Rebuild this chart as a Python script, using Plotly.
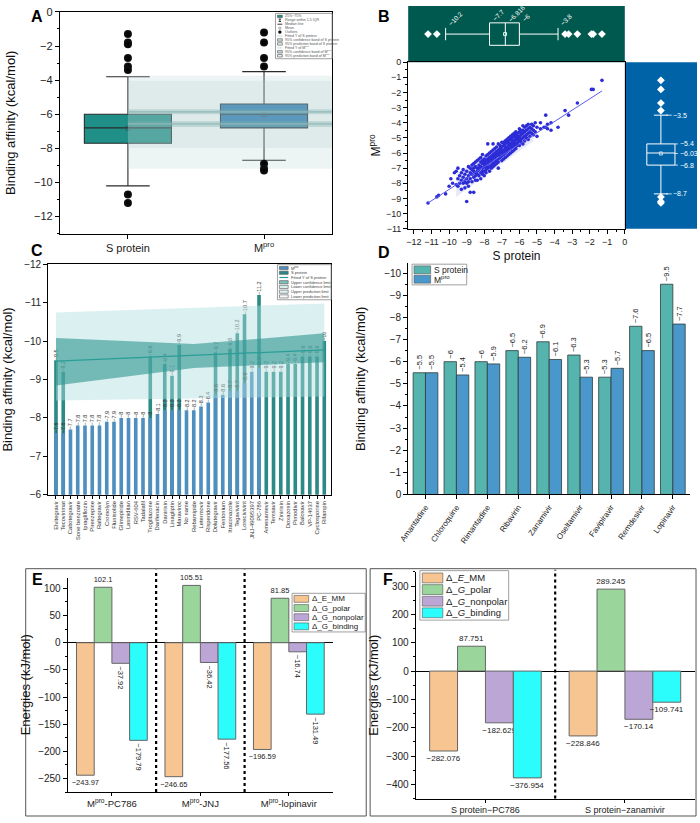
import plotly.graph_objects as go

W, H = 700, 823
def PX(x): return x / W
def PY(y): return 1 - y / H
FONT = "Arial, Liberation Sans, sans-serif"

def fmt(v):
    return f"{v:g}".replace("-", "\u2212")

# ---------------- DATA ----------------
# Panel A (box statistics)
a_groups = ["S protein", "M<sup>pro</sup>"]
a_q1 = [-7.7, -6.8]
a_median = [-6.8, -6.0]
a_q3 = [-6.0, -5.4]
a_lower = [-10.2, -8.7]
a_upper = [-3.8, -3.5]
a_mean = [-6.816, -6.03]
a_out_s = [-1.3, -1.8, -1.9, -2.7, -3.2, -3.4, -10.7, -11.2]
a_out_m = [-1.2, -1.8, -2.7, -3.2, -8.9, -9.2, -9.3]
a_band_x = [0, 1.5]
a_pred_band = [-9.2, -3.75]
a_conf_band = [-7.98, -4.04]
a_fit_s_band = [-6.75, -6.4]
a_fit_s = -6.57
a_fit_m_band = [-6.0, -5.71]
a_fit_m = -5.86

# Panel B
b_pairs = [
    (-11.2, -9.3), (-10.7, -8.9), (-10.6, -8.8), (-10.2, -8.7), (-10.0, -8.2), (-9.9, -7.7), (-9.8, -8.0), (-9.7, -7.3),
    (-9.6, -8.1), (-9.6, -7.2), (-9.5, -8.2), (-9.5, -7.7), (-9.5, -7.0), (-9.4, -8.0), (-9.4, -7.5),
    (-9.3, -7.3), (-9.3, -8.4), (-9.3, -7.8), (-9.2, -7.6), (-9.2, -8.0), (-9.2, -7.1),
    (-9.1, -7.9), (-9.1, -7.4), (-9.1, -8.3), (-9.0, -7.7), (-9.0, -7.2), (-9.0, -8.0), (-9.0, -9.2),
    (-8.9, -7.5), (-8.9, -7.9), (-8.9, -6.9), (-8.9, -8.2),
    (-8.8, -7.3), (-8.8, -7.7), (-8.8, -8.6), (-8.8, -7.0),
    (-8.7, -7.4), (-8.7, -6.8), (-8.7, -7.9), (-8.7, -7.1),
    (-8.6, -7.2), (-8.6, -7.6), (-8.6, -6.7), (-8.6, -8.6), (-8.6, -7.0),
    (-8.5, -7.3), (-8.5, -6.9), (-8.5, -7.8), (-8.5, -6.6), (-8.5, -7.5),
    (-8.4, -7.0), (-8.4, -7.4), (-8.4, -6.5), (-8.4, -7.8), (-8.4, -7.2),
    (-8.3, -6.8), (-8.3, -7.1), (-8.3, -7.5), (-8.3, -6.4), (-8.3, -7.0),
    (-8.2, -6.9), (-8.2, -7.3), (-8.2, -6.6), (-8.2, -7.7), (-8.2, -6.3),
    (-8.1, -6.7), (-8.1, -7.0), (-8.1, -7.4), (-8.1, -6.5), (-8.1, -6.1), (-8.1, -7.2),
    (-8.0, -6.9), (-8.0, -6.6), (-8.0, -7.2), (-8.0, -6.4), (-8.0, -7.5), (-8.0, -6.7),
    (-7.9, -6.5), (-7.9, -6.8), (-7.9, -7.1), (-7.9, -6.2), (-7.9, -7.3), (-7.9, -6.9),
    (-7.8, -6.7), (-7.8, -6.4), (-7.8, -7.0), (-7.8, -6.1), (-7.8, -5.4), (-7.8, -6.6),
    (-7.7, -6.3), (-7.7, -6.6), (-7.7, -6.9), (-7.7, -6.0), (-7.7, -7.2), (-7.7, -6.5),
    (-7.6, -6.5), (-7.6, -6.2), (-7.6, -6.8), (-7.6, -5.9), (-7.6, -7.0), (-7.6, -6.4),
    (-7.5, -6.1), (-7.5, -6.4), (-7.5, -6.7), (-7.5, -5.8), (-7.5, -6.9), (-7.5, -6.3), (-7.5, -5.4),
    (-7.4, -6.3), (-7.4, -6.0), (-7.4, -6.6), (-7.4, -5.7), (-7.4, -6.8), (-7.4, -6.2),
    (-7.3, -5.9), (-7.3, -6.2), (-7.3, -6.5), (-7.3, -5.6), (-7.3, -6.1), (-7.3, -6.7),
    (-7.2, -6.1), (-7.2, -5.8), (-7.2, -6.4), (-7.2, -5.4), (-7.2, -6.0), (-7.2, -6.6), (-7.2, -7.0),
    (-7.1, -5.7), (-7.1, -6.0), (-7.1, -6.3), (-7.1, -5.5), (-7.1, -6.2), (-7.1, -5.9),
    (-7.0, -5.9), (-7.0, -5.6), (-7.0, -6.2), (-7.0, -5.3), (-7.0, -6.0), (-7.0, -6.5), (-7.0, -5.8),
    (-6.9, -5.5), (-6.9, -5.8), (-6.9, -6.1), (-6.9, -5.3), (-6.9, -5.9), (-6.9, -6.4),
    (-6.8, -5.7), (-6.8, -5.4), (-6.8, -6.0), (-6.8, -5.2), (-6.8, -5.6), (-6.8, -6.3), (-6.8, -5.8),
    (-6.7, -5.3), (-6.7, -5.6), (-6.7, -5.9), (-6.7, -5.1), (-6.7, -5.7), (-6.7, -6.2),
    (-6.6, -5.5), (-6.6, -5.2), (-6.6, -5.8), (-6.6, -5.0), (-6.6, -5.4), (-6.6, -6.1), (-6.6, -5.6),
    (-6.5, -5.1), (-6.5, -5.4), (-6.5, -5.7), (-6.5, -4.9), (-6.5, -5.5), (-6.5, -6.0),
    (-6.4, -5.3), (-6.4, -5.0), (-6.4, -5.6), (-6.4, -4.8), (-6.4, -5.2), (-6.4, -5.9), (-6.4, -5.4),
    (-6.3, -4.9), (-6.3, -5.2), (-6.3, -5.5), (-6.3, -4.7), (-6.3, -5.3), (-6.3, -5.8),
    (-6.2, -5.1), (-6.2, -4.8), (-6.2, -5.4), (-6.2, -4.6), (-6.2, -5.0), (-6.2, -5.7),
    (-6.1, -4.7), (-6.1, -5.0), (-6.1, -5.3), (-6.1, -4.9), (-6.1, -5.5), (-6.1, -5.1),
    (-6.0, -4.9), (-6.0, -4.6), (-6.0, -5.2), (-6.0, -4.4), (-6.0, -5.0), (-6.0, -5.5),
    (-5.9, -4.5), (-5.9, -4.8), (-5.9, -5.1), (-5.9, -4.7), (-5.9, -5.3),
    (-5.8, -4.7), (-5.8, -4.2), (-5.8, -5.0), (-5.8, -4.5), (-5.8, -5.4),
    (-5.7, -4.3), (-5.7, -4.6), (-5.7, -4.9), (-5.7, -5.2),
    (-5.6, -4.5), (-5.6, -4.8), (-5.6, -4.2), (-5.6, -5.0),
    (-5.5, -4.1), (-5.5, -4.4), (-5.5, -4.7), (-5.5, -5.1),
    (-5.4, -4.3), (-5.4, -4.6), (-5.4, -4.9),
    (-5.3, -4.1), (-5.3, -4.4), (-5.3, -4.7),
    (-5.2, -4.5), (-5.2, -4.2), (-5.2, -4.8),
    (-5.1, -4.0), (-5.1, -4.6), (-5.0, -4.3), (-5.0, -4.9),
    (-4.8, -4.0), (-4.8, -4.4), (-4.6, -4.3), (-4.5, -3.5), (-4.5, -4.3),
    (-4.4, -4.1), (-4.4, -4.4), (-4.2, -4.0), (-4.2, -4.5), (-3.8, -4.3),
    (-3.4, -3.2), (-3.2, -3.5), (-2.7, -2.7), (-1.9, -1.8), (-1.8, -1.8), (-1.3, -1.2),
]
b_fit_x = [-11.2, -1.3]
b_fit_y = [-9.3, -1.9]
b_band_x = [-9.6, -5.2]
b_band_lo = [-8.9, -5.2]
b_band_hi = [-7.4, -3.9]
b_top_stats = [-10.2, -7.7, -6.8, -6.0, -3.8]
b_top_labels = ["-10.2", "-7.7", "-6.816", "-6", "-3.8"]
b_top_out = [-11.2, -10.7, -3.4, -3.2, -2.7, -1.9, -1.8, -1.3]
b_right_stats = [-3.5, -5.4, -6.03, -6.8, -8.7]
b_right_labels = ["-3.5", "-5.4", "-6.03", "-6.8", "-8.7"]
b_right_out = [-1.2, -1.8, -2.7, -3.2, -8.9, -9.2, -9.3]

# Panel C
c_drugs = ["Elvitegravir", "Tecovirimat", "Cabotegravir", "Sone benzoate", "Ipragliflozin", "Pirenzepine",
           "Raltegravir", "Cromolyn", "Flunisolide", "Glimepiride", "Lasmiditan", "RSV-604", "Tadalafil",
           "Troglitazone", "Darifenacin", "Danirixin", "Linagliptin", "Maraviroc", "No name", "Rebamipide",
           "Letermovir", "Risperidone", "Dolutegravir", "Fentonium", "Itraconazole", "Tegavivint",
           "Lorecivivint", "JNJ-49095397", "PC-786", "Amenamevir", "Temsavir", "Zinirixin", "Doxazosin",
           "Pimodivir", "Baloxavir", "VP-14637", "Cyclosporine", "Rifampin"]
c_mpro = [-7.6, -7.6, -7.7, -7.8, -7.8, -7.8, -7.8, -7.9, -7.9, -8, -8, -8, -8, -8, -8.1, -8.2, -8.2, -8.2,
          -8.2, -8.2, -8.3, -8.4, -8.6, -8.6, -8.7, -8.7, -8.9, -9.2, -9.3,
          None, None, None, None, None, None, None, None, None]
c_s = [-9.5, -9.2, None, None, None, None, None, None, None, None, None, None, None, -9.6, None, -9.4, -9.1,
       -9.9, None, None, None, None, -9.7, None, -9.8, -10.2, -10.7, None, -11.2, -9.2, -9.2, -9.2, -9.4,
       -9.4, -9.6, -9.6, -9.6, -10]
c_band_x = [0, 19, 37]
c_fit = [-9.48, -9.62, -9.77]
c_conf_hi = [-10.08, -9.92, -10.2]
c_conf_lo = [-8.84, -9.3, -9.45]
c_pred_hi = [-10.74, -10.86, -10.98]
c_pred_lo = [-8.45, -8.5, -8.56]

# Panel D
d_drugs = ["Amantadine", "Chloroquine", "Rimantadine", "Ribavirin", "Zanamivir", "Oseltamivir",
           "Favipiravir", "Remdesivir", "Lopinavir"]
d_s = [-5.5, -6, -6, -6.5, -6.9, -6.3, -5.3, -7.6, -9.5]
d_m = [-5.5, -5.4, -5.9, -6.2, -6.1, -5.3, -5.7, -6.5, -7.7]
d_names = ["S protein", "M<sup>pro</sup>"]

# Panel E
e_groups = ["M<sup>pro</sup>-PC786", "M<sup>pro</sup>-JNJ", "M<sup>pro</sup>-lopinavir"]
e_emm = [-243.97, -246.65, -196.59]
e_polar = [102.1, 105.51, 81.85]
e_nonpolar = [-37.92, -36.42, -16.74]
e_binding = [-179.79, -177.56, -131.49]
e_names = ["\u0394_E_MM", "\u0394_G_polar", "\u0394_G_nonpolar", "\u0394_G_binding"]

# Panel F
f_groups = ["S protein\u2212PC786", "S protein\u2212zanamivir"]
f_emm = [-282.076, -228.846]
f_polar = [87.751, 289.245]
f_nonpolar = [-182.629, -170.14]
f_binding = [-376.954, -109.741]
f_names = ["\u0394_<i>E</i>_MM", "\u0394_<i>G</i>_polar", "\u0394_<i>G</i>_nonpolar", "\u0394_<i>G</i>_binding"]

# ---------------- STYLE ----------------
A_S, A_M = "#1f8f88", "#2878b0"
B_TOP_BG, B_RIGHT_BG = "#00594f", "#0063a8"
C_M, C_S = "#4f8fc0", "#2b8a85"
D_S, D_M = "#55b4ad", "#4a98cb"
E_COLS = ["#f7c592", "#9ad59b", "#bba6d6", "#2bfcfc"]

fig = go.Figure()
shapes, annots = [], []

def rect_px(x0, y0, x1, y1, fill, line="#444", lw=0.8):
    shapes.append(dict(type="rect", xref="paper", yref="paper", x0=PX(x0), x1=PX(x1), y0=PY(y1), y1=PY(y0),
                       fillcolor=fill, line=dict(color=line, width=lw), layer="above"))

def line_px(x0, y0, x1, y1, color, lw=1.0, dash="solid"):
    shapes.append(dict(type="line", xref="paper", yref="paper", x0=PX(x0), x1=PX(x1), y0=PY(y0), y1=PY(y1),
                       line=dict(color=color, width=lw, dash=dash), layer="above"))

def text_px(x, y, s, size, color="#222", xanchor="left", yanchor="middle"):
    annots.append(dict(xref="paper", yref="paper", x=PX(x), y=PY(y), text=s, showarrow=False,
                       xanchor=xanchor, yanchor=yanchor, borderpad=0,
                       font=dict(size=size, color=color, family=FONT)))

def manual_legend(items, x0, y0, x1, row_h, sw_w, sw_h, fsize, pad=1.5, tcolor="#222"):
    n = len(items)
    rect_px(x0, y0, x1, y0 + 2 * pad + n * row_h, "white", line="#888", lw=0.8)
    for i, (kind, color, label) in enumerate(items):
        cy = y0 + pad + row_h * (i + 0.5)
        sx = x0 + pad + 1
        if kind == "rect":
            rect_px(sx, cy - sw_h / 2, sx + sw_w, cy + sw_h / 2, color, line="#555", lw=0.6)
        elif kind == "line":
            line_px(sx, cy, sx + sw_w, cy, color, lw=1.2)
        elif kind == "whisker":
            line_px(sx + sw_w / 2, cy - sw_h / 2, sx + sw_w / 2, cy + sw_h / 2, color, lw=0.8)
            line_px(sx + sw_w / 4, cy - sw_h / 2, sx + 3 * sw_w / 4, cy - sw_h / 2, color, lw=0.8)
            line_px(sx + sw_w / 4, cy + sw_h / 2, sx + 3 * sw_w / 4, cy + sw_h / 2, color, lw=0.8)
        elif kind == "dot":
            shapes.append(dict(type="circle", xref="paper", yref="paper", x0=PX(sx + sw_w / 2 - 1.5),
                               x1=PX(sx + sw_w / 2 + 1.5), y0=PY(cy + 1.5), y1=PY(cy - 1.5),
                               fillcolor=color, line=dict(color=color, width=0.5)))
        elif kind == "sq":
            rect_px(sx + sw_w / 2 - 1, cy - 1, sx + sw_w / 2 + 1, cy + 1, "white", line=color, lw=0.5)
        text_px(sx + sw_w + 2, cy, label, fsize, color=tcolor)

# ---------------- PANEL A ----------------
for i, col in enumerate([A_S, A_M]):
    fig.add_trace(go.Box(x=[i], q1=[a_q1[i]], median=[a_median[i]], q3=[a_q3[i]],
                         lowerfence=[a_lower[i]], upperfence=[a_upper[i]], width=0.64, whiskerwidth=0.5,
                         fillcolor=col, line=dict(color="#2a2a2a", width=1.1), boxpoints=False,
                         xaxis="x", yaxis="y"))
fig.add_trace(go.Scatter(x=[0, 1], y=a_mean, mode="markers", xaxis="x", yaxis="y",
                         marker=dict(symbol="square-open", size=4, color="#444", line=dict(width=0.6))))
for lo_hi, fcol in [(a_pred_band, "rgba(175,205,205,0.22)"), (a_conf_band, "rgba(175,205,205,0.22)"),
                    (a_fit_s_band, "rgba(130,175,175,0.35)"), (a_fit_m_band, "rgba(130,175,175,0.35)")]:
    fig.add_trace(go.Scatter(x=[a_band_x[0], a_band_x[1], a_band_x[1], a_band_x[0]],
                             y=[lo_hi[0], lo_hi[0], lo_hi[1], lo_hi[1]], fill="toself", fillcolor=fcol,
                             mode="lines", line=dict(width=0), xaxis="x", yaxis="y"))
for fy in [a_fit_s, a_fit_m]:
    fig.add_trace(go.Scatter(x=a_band_x, y=[fy, fy], mode="lines", line=dict(color="#8fb8b8", width=1.2),
                             xaxis="x", yaxis="y"))
fig.add_trace(go.Scatter(x=[0] * len(a_out_s) + [1] * len(a_out_m), y=a_out_s + a_out_m, mode="markers",
                         xaxis="x", yaxis="y",
                         marker=dict(size=8, color="#111", gradient=dict(type="radial", color="#000"),
                                     line=dict(width=0))))

manual_legend([("rect", A_S, "25%~75%"), ("whisker", "#111", "Range within 1.5 IQR"),
               ("line", "#555", "Median line"), ("sq", "#666", "Mean"), ("dot", "#111", "Outliers"),
               ("line", "#cfe2e2", "Fitted Y of S protein"), ("rect", "#c9dede", "95% confidence band of S protein"),
               ("rect", "#e6f0f0", "95% prediction band of S protein"), ("line", "#cfe2e2", "Fitted Y of M<sup>pro</sup>"),
               ("rect", "#c9dede", "95% confidence band of M<sup>pro</sup>"),
               ("rect", "#e6f0f0", "95% prediction band of M<sup>pro</sup>")],
              268, 7.5, 326, 4.0, 5, 2.5, 3.6, pad=1, tcolor="#555")

# ---------------- PANEL B ----------------
b_sx = [p[0] for p in b_pairs]
b_my = [p[1] for p in b_pairs]
fig.add_trace(go.Scatter(x=[b_band_x[0], b_band_x[1], b_band_x[1], b_band_x[0]],
                         y=[b_band_lo[0], b_band_lo[1], b_band_hi[1], b_band_hi[0]], fill="toself",
                         fillcolor="rgba(130,130,235,0.18)", mode="lines", line=dict(width=0),
                         xaxis="x2", yaxis="y2"))
fig.add_trace(go.Scatter(x=b_sx, y=b_my, mode="markers", xaxis="x2", yaxis="y2",
                         marker=dict(size=3.6, color="rgb(45,45,215)", line=dict(width=0))))
fig.add_trace(go.Scatter(x=b_fit_x, y=b_fit_y, mode="lines", line=dict(color="#5b5bf0", width=1),
                         xaxis="x2", yaxis="y2"))
# top box (S protein)
fig.add_trace(go.Box(y=[0], q1=[b_top_stats[1]], median=[b_top_stats[2]], q3=[b_top_stats[3]],
                     lowerfence=[b_top_stats[0]], upperfence=[b_top_stats[4]], orientation="h",
                     width=0.8, whiskerwidth=0.55, fillcolor="rgba(0,0,0,0)",
                     line=dict(color="white", width=1), boxpoints=False, xaxis="x3", yaxis="y3"))
fig.add_trace(go.Scatter(x=b_top_out, y=[0] * len(b_top_out), mode="markers", xaxis="x3", yaxis="y3",
                         marker=dict(symbol="diamond", size=6, color="white")))
fig.add_trace(go.Scatter(x=[a_mean[0]], y=[0], mode="markers", xaxis="x3", yaxis="y3",
                         marker=dict(symbol="square-open", size=3, color="#cfe")))
for v, lab in zip(b_top_stats, b_top_labels):
    inbox = b_top_stats[1] <= v <= b_top_stats[3]
    annots.append(dict(xref="x3", yref="y3", x=v, y=0.36 if inbox else 0.2, text=lab.replace("-", "\u2212"),
                       showarrow=False, xanchor="left", yanchor="bottom", textangle=-45, borderpad=0,
                       font=dict(size=6.5, color="white", family=FONT)))
# right box (Mpro)
fig.add_trace(go.Box(x=[0], q1=[b_right_stats[3]], median=[a_median[1]], q3=[b_right_stats[1]],
                     lowerfence=[b_right_stats[4]], upperfence=[b_right_stats[0]],
                     width=0.78, whiskerwidth=0.5, fillcolor="rgba(0,0,0,0)",
                     line=dict(color="white", width=1), boxpoints=False, xaxis="x4", yaxis="y4"))
fig.add_trace(go.Scatter(x=[0] * len(b_right_out), y=b_right_out, mode="markers", xaxis="x4", yaxis="y4",
                         marker=dict(symbol="diamond", size=6, color="white")))
fig.add_trace(go.Scatter(x=[0], y=[b_right_stats[2]], mode="markers", xaxis="x4", yaxis="y4",
                         marker=dict(symbol="square-open", size=3, color="#cde")))
for v, lab in zip(b_right_stats, b_right_labels):
    inbox = b_right_stats[3] <= v <= b_right_stats[1]
    x0, x1 = (0.39, 0.47) if inbox else (0.14, 0.3)
    shapes.append(dict(type="line", xref="x4", yref="y4", x0=x0, x1=x1, y0=v, y1=v,
                       line=dict(color="white", width=0.8)))
    annots.append(dict(xref="x4", yref="y4", x=x1 + 0.02, y=v, text=lab.replace("-", "\u2212"),
                       showarrow=False, xanchor="left", yanchor="middle", borderpad=0,
                       font=dict(size=7, color="white", family=FONT)))
shapes.append(dict(type="rect", xref="x3 domain", yref="y3 domain", x0=0, x1=1, y0=0, y1=1,
                   fillcolor=B_TOP_BG, line=dict(width=0), layer="below"))
shapes.append(dict(type="rect", xref="x4 domain", yref="y4 domain", x0=0, x1=1, y0=0, y1=1,
                   fillcolor=B_RIGHT_BG, line=dict(width=0), layer="below"))

# ---------------- PANEL C ----------------
c_sx = [i for i, v in enumerate(c_s) if v is not None]
c_sv = [v for v in c_s if v is not None]
c_mx = [i for i, v in enumerate(c_mpro) if v is not None]
c_mv = [v for v in c_mpro if v is not None]
for xs, vs, col in [(c_sx, c_sv, C_S), (c_mx, c_mv, C_M)]:
    fig.add_trace(go.Bar(x=xs, y=vs, xaxis="x5", yaxis="y5", width=0.5, offset=-0.25, offsetgroup="c",
                         marker=dict(color=col, line=dict(width=0)),
                         text=[fmt(v) for v in vs], textposition="outside",
                         textangle=-90, constraintext="none",
                         textfont=dict(size=5.5, color="#333", family=FONT)))
fig.add_trace(go.Scatter(x=c_band_x + c_band_x[::-1], y=c_pred_hi + c_pred_lo[::-1], fill="toself",
                         fillcolor="rgba(175,222,222,0.45)", mode="lines", line=dict(width=0),
                         xaxis="x5", yaxis="y5"))
fig.add_trace(go.Scatter(x=c_band_x + c_band_x[::-1], y=c_conf_hi + c_conf_lo[::-1], fill="toself",
                         fillcolor="rgba(45,150,145,0.6)", mode="lines", line=dict(width=0),
                         xaxis="x5", yaxis="y5"))
fig.add_trace(go.Scatter(x=c_band_x, y=c_fit, mode="lines", line=dict(color="#2a9d96", width=1.2),
                         xaxis="x5", yaxis="y5"))
manual_legend([("rect", C_M, "M<sup>pro</sup>"), ("rect", C_S, "S protein"),
               ("line", "#2a9d96", "Fitted Y of S protein"), ("rect", "#7cc0bc", "Upper confidence limit"),
               ("rect", "#d9eeee", "Lower confidence limit"), ("rect", "#e3f3f3", "Upper prediction limit"),
               ("rect", "#f4fafa", "Lower prediction limit")],
              270, 262.5, 325, 4.8, 9, 3.2, 4, pad=1, tcolor="#444")

# ---------------- PANEL D ----------------
d_x = list(range(len(d_drugs)))
for vals, col in [(d_s, D_S), (d_m, D_M)]:
    fig.add_trace(go.Bar(x=d_x, y=vals, xaxis="x6", yaxis="y6",
                         marker=dict(color=col, line=dict(color="#2f3b3b", width=0.8)),
                         text=[fmt(v) for v in vals], textposition="outside", textangle=-90,
                         constraintext="none", cliponaxis=False,
                         textfont=dict(size=7.5, color="#222", family=FONT)))
manual_legend([("rect", D_S, d_names[0]), ("rect", D_M, d_names[1])],
              408, 262, 464, 9.5, 17, 8, 8.5, pad=1)

# ---------------- PANEL E ----------------
e_x = list(range(len(e_groups)))
for vals, col, ang in [(e_emm, E_COLS[0], 0), (e_polar, E_COLS[1], 0), (e_nonpolar, E_COLS[2], 90),
                       (e_binding, E_COLS[3], 90)]:
    fig.add_trace(go.Bar(x=e_x, y=vals, xaxis="x7", yaxis="y7",
                         marker=dict(color=col, line=dict(color="#666", width=1)),
                         text=[fmt(v) for v in vals], textposition="outside", textangle=ang,
                         constraintext="none", cliponaxis=False,
                         textfont=dict(size=7.5, color="#222", family=FONT)))
manual_legend([("rect", c, n) for c, n in zip(E_COLS, e_names)], 285, 596, 360, 9.3, 15, 7, 8, pad=1)

# ---------------- PANEL F ----------------
f_x = list(range(len(f_groups)))
for vals, col in [(f_emm, E_COLS[0]), (f_polar, E_COLS[1]), (f_nonpolar, E_COLS[2]), (f_binding, E_COLS[3])]:
    fig.add_trace(go.Bar(x=f_x, y=vals, xaxis="x8", yaxis="y8",
                         marker=dict(color=col, line=dict(color="#666", width=1)),
                         text=[fmt(v) for v in vals], textposition="outside", textangle=0,
                         constraintext="none", cliponaxis=False,
                         textfont=dict(size=8, color="#222", family=FONT)))
manual_legend([("rect", c, n) for c, n in zip(E_COLS, f_names)], 416, 573, 507, 11.8, 21, 10, 9.5, pad=1.5)

# dotted separators and frames
for xv in [0.5, 1.5]:
    shapes.append(dict(type="line", xref="x7", yref="paper", x0=xv, x1=xv, y0=PY(797.7), y1=PY(572),
                       line=dict(color="black", width=2.2, dash="dot")))
shapes.append(dict(type="line", xref="x8", yref="paper", x0=0.5, x1=0.5, y0=PY(804.3), y1=PY(572),
                   line=dict(color="black", width=2.2, dash="dot")))
for x0, x1 in [(12, 361), (365, 699)]:
    shapes.append(dict(type="rect", xref="paper", yref="paper", x0=PX(x0), x1=PX(x1), y0=PY(822), y1=PY(571),
                       line=dict(color="#555", width=1), fillcolor="rgba(0,0,0,0)"))

# panel letters
for lab, x, y in [("A", 16, 1), ("B", 372, 1), ("C", 16, 238), ("D", 372, 240), ("E", 17, 572), ("F", 377, 572)]:
    text_px(x, y, f"<b>{lab}</b>", 16, color="black", yanchor="top")

# ---------------- AXES ----------------
ax_common = dict(showline=True, linecolor="black", linewidth=1, ticks="outside", ticklen=4, tickwidth=1,
                 tickcolor="black", showgrid=False, zeroline=False,
                 tickfont=dict(size=10, color="#222", family=FONT))

def T(s, size=12):
    return dict(text=s, font=dict(size=size, color="#111", family=FONT))

layout_axes = dict(
    xaxis=dict(ax_common, domain=[PX(47), PX(326)], range=[-0.5, 1.5], tickvals=[0, 1], ticktext=a_groups,
               mirror=True, anchor="y", tickfont=dict(size=11, color="#222", family=FONT)),
    yaxis=dict(ax_common, domain=[PY(231), PY(6)], range=[-13, 0], dtick=2, mirror=True, anchor="x",
               minor=dict(dtick=1, ticks="outside", ticklen=2, tickcolor="black"),
               tickfont=dict(size=11, color="#222", family=FONT),
               title=T("Binding affinity (kcal/mol)", 13)),
    xaxis2=dict(ax_common, domain=[PX(404), PX(626)], range=[-12.33, 0], dtick=1, mirror=True, anchor="y2",
                tickangle=0, tickfont=dict(size=9, color="#222", family=FONT),
                minor=dict(dtick=0.5, ticks="outside", ticklen=2, tickcolor="black"),
                title=dict(T("S protein", 12), standoff=6)),
    yaxis2=dict(ax_common, domain=[PY(226), PY(57)], range=[-11, 0], dtick=1, mirror=True, anchor="x2",
                tickfont=dict(size=9, color="#222", family=FONT),
                minor=dict(dtick=0.5, ticks="outside", ticklen=2, tickcolor="black"),
                title=dict(T("M<sup>pro</sup>", 12), standoff=2)),
    xaxis3=dict(domain=[PX(404), PX(626)], matches="x2", anchor="y3", visible=False),
    yaxis3=dict(domain=[PY(57), 1.0], range=[-1, 1], anchor="x3", visible=False),
    xaxis4=dict(domain=[PX(626), 1.0], range=[-1, 1], anchor="y4", visible=False),
    yaxis4=dict(domain=[PY(226), PY(57)], matches="y2", anchor="x4", visible=False),
    xaxis5=dict(ax_common, domain=[PX(35), PX(325)], range=[-1.08, 37.94], tickvals=list(range(len(c_drugs))),
                ticktext=c_drugs, tickangle=-90, mirror=True, anchor="y5", ticklen=3,
                tickfont=dict(size=5.8, color="#333", family=FONT)),
    yaxis5=dict(ax_common, domain=[PY(496), PY(262)], range=[-6, -12], dtick=1, mirror=True, anchor="x5",
                title=T("Binding affinity (kcal/mol)", 13)),
    xaxis6=dict(ax_common, domain=[PX(404), PX(693)], range=[-0.56, 8.56], tickvals=d_x, ticktext=d_drugs,
                tickangle=-55, anchor="y6", tickfont=dict(size=8, color="#222", family=FONT)),
    yaxis6=dict(ax_common, domain=[PY(495.7), PY(261)], range=[0, -10.45], dtick=1, anchor="x6",
                minor=dict(dtick=0.5, ticks="outside", ticklen=2, tickcolor="black"),
                title=T("Binding affinity (kcal/mol)", 13)),
    xaxis7=dict(ax_common, domain=[PX(55), PX(327)], range=[-0.5, 2.5], tickvals=e_x, ticktext=e_groups,
                anchor="y7", ticklen=3, tickfont=dict(size=9.5, color="#222", family=FONT)),
    yaxis7=dict(ax_common, domain=[PY(797.7), PY(580)], range=[-275, 120], dtick=50, anchor="x7",
                zeroline=True, zerolinecolor="black", zerolinewidth=1,
                minor=dict(dtick=25, ticks="outside", ticklen=2, tickcolor="black"),
                title=dict(T("Energies (kJ/mol)", 13), standoff=4)),
    xaxis8=dict(ax_common, domain=[PX(411.7), PX(697.6)], range=[-0.5, 1.5], tickvals=f_x, ticktext=f_groups,
                anchor="y8", ticklen=3, tickfont=dict(size=9, color="#222", family=FONT)),
    yaxis8=dict(ax_common, domain=[PY(804.3), PY(574.3)], range=[-450, 350], dtick=100, anchor="x8",
                zeroline=True, zerolinecolor="black", zerolinewidth=1,
                minor=dict(dtick=50, ticks="outside", ticklen=2, tickcolor="black"),
                title=dict(T("Energies (kJ/mol)", 13), standoff=4)),
)

fig.update_layout(**layout_axes)
fig.update_layout(width=W, height=H, autosize=False, margin=dict(l=0, r=0, t=0, b=0),
                  plot_bgcolor="white", paper_bgcolor="white", showlegend=False,
                  barmode="group", bargap=0.2, bargroupgap=0, boxmode="overlay",
                  font=dict(family=FONT, color="#222"), shapes=shapes, annotations=annots)
fig.write_html("out.html", config={"displayModeBar": False, "staticPlot": True},
               post_script="document.body.style.margin='0';document.body.style.padding='0';"
                           "document.body.style.overflow='hidden';"
                           "document.documentElement.style.overflow='hidden';")
